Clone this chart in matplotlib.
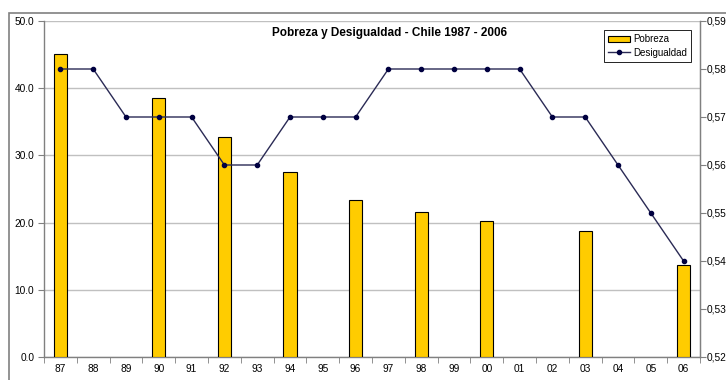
import matplotlib
matplotlib.use("Agg")
import matplotlib.pyplot as plt
from matplotlib.patches import Rectangle
from matplotlib.ticker import FixedLocator, FuncFormatter
import numpy as np

plt.rcParams['font.family'] = ['Liberation Sans', 'DejaVu Sans']

years = ["87", "88", "89", "90", "91", "92", "93", "94", "95", "96",
         "97", "98", "99", "00", "01", "02", "03", "04", "05", "06"]
# Poverty (%) — surveyed years only
pobreza = [45.1, None, None, 38.6, None, 32.8, None, 27.6, None, 23.3,
           None, 21.6, None, 20.2, None, None, 18.7, None, None, 13.7]
# Gini coefficient
desigualdad = [0.58, 0.58, 0.57, 0.57, 0.57, 0.56, 0.56, 0.57, 0.57, 0.57,
               0.58, 0.58, 0.58, 0.58, 0.58, 0.57, 0.57, 0.56, 0.55, 0.54]
left_ticks = [0, 10, 20, 30, 40, 50]
right_ticks = [0.52, 0.53, 0.54, 0.55, 0.56, 0.57, 0.58, 0.59]

W, H = 726, 380
fig = plt.figure(figsize=(W / 100, H / 100), dpi=100)

# chart-area frame
fig.patches.append(Rectangle((9 / W, -0.1), 1.2, 1.1 - 13 / H,
                             transform=fig.transFigure, fill=False,
                             edgecolor='#808080', linewidth=1.2))

ax = fig.add_axes([44 / W, (H - 357) / H, 656 / W, 336 / H])
x = np.arange(len(years))

bx = [i for i, v in enumerate(pobreza) if v is not None]
bv = [v for v in pobreza if v is not None]
ax.bar(bx, bv, width=0.4, color='#FFCC00', edgecolor='#000000',
       linewidth=0.8, zorder=3, label='Pobreza')

ax.set_xlim(-0.5, len(years) - 0.5)
ax.set_ylim(0, 50)
ax.yaxis.set_major_locator(FixedLocator(left_ticks))
ax.yaxis.set_major_formatter(FuncFormatter(lambda v, p: f"{v:.1f}"))
ax.set_xticks(x)
ax.set_xticklabels(years)
ax.set_xticks(np.arange(-0.5, len(years), 1.0), minor=True)
ax.tick_params(axis='x', which='major', length=0, labelsize=7.3, pad=5)
ax.tick_params(axis='x', which='minor', length=4, color='#808080', direction='out')
ax.tick_params(axis='y', length=4, color='#808080', labelsize=7.3, pad=3)
ax.grid(axis='y', color='#c0c0c0', linewidth=1, zorder=0)
ax.set_axisbelow(True)
for s in ['left', 'bottom', 'right']:
    ax.spines[s].set_color('#808080')
    ax.spines[s].set_linewidth(1)
ax.spines['top'].set_visible(False)

ax2 = ax.twinx()
ax2.set_ylim(0.52, 0.59)
ax2.yaxis.set_major_locator(FixedLocator(right_ticks))
ax2.yaxis.set_major_formatter(FuncFormatter(lambda v, p: f"{v:.2f}".replace('.', ',')))
ax2.tick_params(axis='y', length=4, color='#808080', labelsize=7.3, pad=1)
for s in ['left', 'bottom', 'top']:
    ax2.spines[s].set_visible(False)
ax2.spines['right'].set_color('#808080')
line, = ax2.plot(x, desigualdad, color='#2a2a55', linewidth=1,
                 marker='o', markersize=3, markerfacecolor='#000040',
                 markeredgecolor='#000040', zorder=4, label='Desigualdad')

fig.text(390 / W, 1 - 33 / H, 'Pobreza y Desigualdad - Chile 1987 - 2006',
         fontsize=8.5, fontweight='bold', ha='center', va='center')

h1, l1 = ax.get_legend_handles_labels()
leg = ax2.legend(h1 + [line], l1 + ['Desigualdad'], loc='upper left',
                 bbox_to_anchor=(0.853, 0.973), fontsize=7, frameon=True,
                 fancybox=False, edgecolor='#000000', framealpha=1,
                 handlelength=2.3, handleheight=0.7, borderpad=0.45,
                 labelspacing=0.35, handletextpad=0.3, borderaxespad=0)
leg.get_frame().set_linewidth(0.6)

fig.savefig('out.png', dpi=100)
